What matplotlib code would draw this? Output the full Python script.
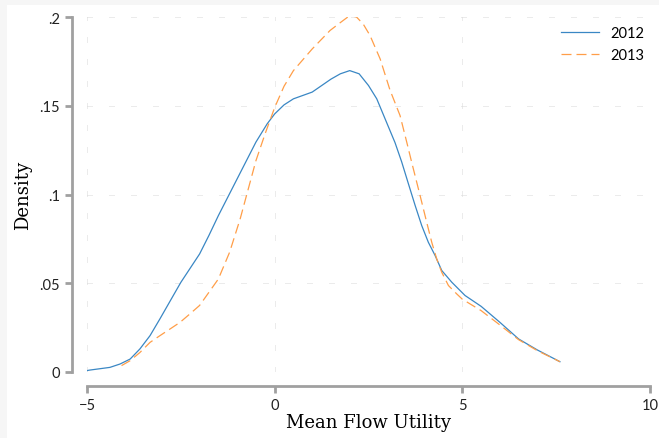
import matplotlib
matplotlib.use("Agg")
import matplotlib.pyplot as plt
from matplotlib.patches import Rectangle

# density curves
x_2012 = [-5.0, -4.92, -4.39, -4.12, -3.85, -3.59, -3.32, -3.055, -2.79, -2.5, -2.25,
          -2.0, -1.75, -1.5, -1.0, -0.5, -0.2, 0.0, 0.25, 0.5, 1.0, 1.5, 1.75, 2.0,
          2.25, 2.5, 2.72, 2.98, 3.207, 3.385, 3.561, 3.74, 3.918, 4.094, 4.273,
          4.451, 4.718, 5.072, 5.5, 6.0, 6.5, 7.0, 7.6]
y_2012 = [0.0008, 0.0011, 0.0026, 0.0045, 0.0073, 0.0130, 0.0205, 0.0300, 0.0398,
          0.0505, 0.0585, 0.0665, 0.0770, 0.0881, 0.1088, 0.1295, 0.1398, 0.1454,
          0.1505, 0.1539, 0.1577, 0.1650, 0.1680, 0.1698, 0.1680, 0.1614, 0.1539,
          0.1407, 0.1292, 0.1183, 0.1062, 0.0940, 0.0825, 0.0731, 0.0657, 0.0572,
          0.0506, 0.0431, 0.0370, 0.0280, 0.0186, 0.0124, 0.0058]

x_2013 = [-4.08, -3.85, -3.59, -3.32, -3.055, -2.79, -2.52, -2.26, -2.0, -1.5, -1.2,
          -0.92, -0.5, -0.25, 0.0, 0.25, 0.5, 1.0, 1.475, 1.74, 2.006, 2.18, 2.36,
          2.54, 2.81, 3.07, 3.34, 3.52, 3.65, 3.785, 3.918, 4.05, 4.185, 4.318,
          4.451, 4.63, 4.85, 5.0, 5.5, 6.0, 6.5, 7.0, 7.6]
y_2013 = [0.0036, 0.0064, 0.0110, 0.0167, 0.0205, 0.0242, 0.0280, 0.0327, 0.0375,
          0.0524, 0.0675, 0.0862, 0.1190, 0.1345, 0.1490, 0.1610, 0.1698, 0.1820,
          0.1924, 0.1967, 0.2009, 0.2000, 0.1960, 0.1896, 0.1764, 0.1590, 0.1445,
          0.1294, 0.1182, 0.1069, 0.0957, 0.0844, 0.0731, 0.0637, 0.0562, 0.0487,
          0.0440, 0.0410, 0.0346, 0.0265, 0.0182, 0.0120, 0.0058]

x_ticks = [-5, 0, 5, 10]
y_ticks = [0, 0.05, 0.1, 0.15, 0.2]
y_tick_labels = ['0', '.05', '.1', '.15', '.2']

fig = plt.figure(figsize=(6.59, 4.39), dpi=100, facecolor='white')

# light grey strips along top and left edge
fig.patches.append(Rectangle((0, 1 - 6 / 439), 1, 6 / 439, transform=fig.transFigure,
                             facecolor='#f6f6f6', edgecolor='none', zorder=0))
fig.patches.append(Rectangle((0, 0), 7 / 659, 1, transform=fig.transFigure,
                             facecolor='#f6f6f6', edgecolor='none', zorder=0))

ax = fig.add_axes([87 / 659, 66 / 439, 563 / 659, 355 / 439])
ax.set_facecolor('none')

grid_style = dict(color='#d9d9d9', linewidth=0.72, linestyle=(0, (1, 1, 1, 1, 1, 17)))
for xv in x_ticks:
    ax.axvline(xv, **grid_style, zorder=1)
for yv in y_ticks:
    ax.axhline(yv, **grid_style, zorder=1)

ax.plot(x_2012, y_2012, color='#3a87c4', linewidth=0.9, label='2012', zorder=3)
ax.plot(x_2013, y_2013, color='#ff9e48', linewidth=0.9, linestyle=(0, (8, 4)),
        label='2013', zorder=3)

ax.set_xlim(-5, 10)
ax.set_ylim(0, 0.2)

for side in ['top', 'right']:
    ax.spines[side].set_visible(False)
ax.spines['left'].set_position(('outward', 11))
ax.spines['bottom'].set_position(('outward', 10))
for side in ['left', 'bottom']:
    ax.spines[side].set_color('#a0a0a0')
    ax.spines[side].set_linewidth(2)

ax.set_xticks(x_ticks)
ax.set_yticks(y_ticks)
ax.set_yticklabels(y_tick_labels)
ax.tick_params(axis='both', colors='#a0a0a0', width=2, length=5, labelcolor='#222222',
               labelsize=10.5)
for lab in ax.get_xticklabels() + ax.get_yticklabels():
    lab.set_family('Lato')

ax.set_xlabel('Mean Flow Utility', family='DejaVu Serif', fontsize=13, labelpad=1)
ax.set_ylabel('Density', family='DejaVu Serif', fontsize=13, labelpad=5)

leg = ax.legend(loc='upper right', frameon=False, prop={'family': 'Lato', 'size': 10.5},
                handlelength=2.6, borderaxespad=0.0, bbox_to_anchor=(1.0, 0.99))

plt.savefig('out.png', dpi=100, facecolor=fig.get_facecolor())
